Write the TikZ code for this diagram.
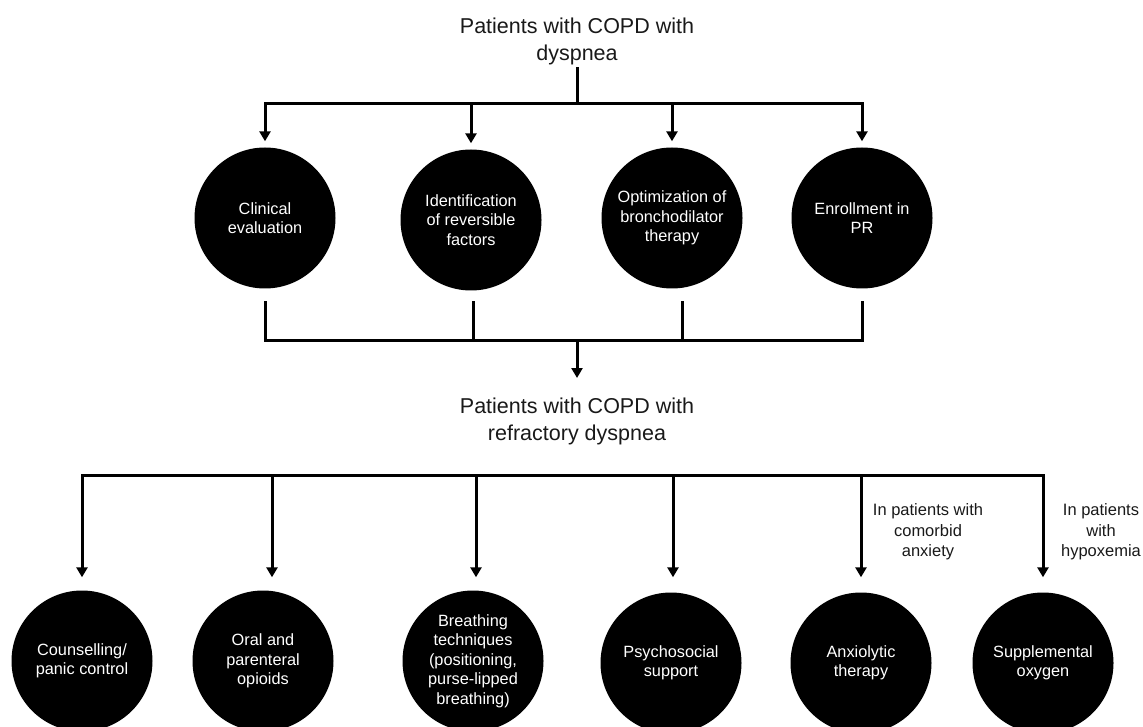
\documentclass[tikz,border=0pt]{standalone}
\usepackage{fontspec}
\setmainfont{Liberation Sans}
\usetikzlibrary{arrows.meta}
\tikzset{
  conn/.style={line width=3pt, line cap=rect},
  arr/.style={line width=3pt, -{Triangle[width=11pt,length=10pt]}},
  circ/.style={circle, fill=black, minimum size=141pt, inner sep=0pt, text=white, align=center, font=\fontsize{16.3}{19.5}\selectfont},
  ttl/.style={align=center, text=black!90, font=\fontsize{21.5}{27}\selectfont},
  lbl/.style={align=center, text=black!90, font=\fontsize{16.5}{20.5}\selectfont}
}
\begin{document}
\begin{tikzpicture}[x=1pt,y=-1pt]
\useasboundingbox (0,0) rectangle (1143,727);
% titles
\node[ttl] (t1) at (577,41) {Patients with COPD with\\dyspnea};
\node[ttl] (t2) at (577,421) {Patients with COPD with\\refractory dyspnea};
% top row circles
\node[circ] (c1) at (265,218) {Clinical\\evaluation};
\node[circ] (c2) at (471,220) {Identification\\of reversible\\factors};
\node[circ] (c3) at (672,218) {Optimization of\\bronchodilator\\therapy};
\node[circ] (c4) at (862,218) {Enrollment in\\PR};
% bottom row circles
\node[circ] (c5) at (82,661) {Counselling/\\panic control};
\node[circ] (c6) at (263,661) {Oral and\\parenteral\\opioids};
\node[circ] (c7) at (473,661) {Breathing\\techniques\\(positioning,\\purse-lipped\\breathing)};
\node[circ] (c8) at (671,663) {Psychosocial\\support};
\node[circ] (c9) at (861,663) {Anxiolytic\\therapy};
\node[circ] (c10) at (1043,663) {Supplemental\\oxygen};
% labels
\node[lbl] (l9) at (928,532) {In patients with\\comorbid\\anxiety};
\node[lbl] (l10) at (1101,532) {In patients\\with\\hypoxemia};
% coordinates
\coordinate (top) at (577,69);
\coordinate (h1C) at (577,104);
\coordinate (h1L) at (265,104);
\coordinate (h1R) at (862,104);
\coordinate (u1) at (265,303);
\coordinate (u2) at (473,303);
\coordinate (u3) at (682,303);
\coordinate (u4) at (862,303);
\coordinate (h2C) at (577,340);
\coordinate (m2) at (577,378);
\coordinate (h3L) at (82,475);
\coordinate (h3R) at (1043,475);
\coordinate (a6) at (272,475);
\coordinate (a7) at (476,475);
\coordinate (a8) at (673,475);
% top connectors
\draw[conn] (top) -- (h1C);
\draw[conn] (h1L) -- (h1R);
\draw[arr, shorten >=6pt] (c1 |- h1C) -- (c1.north);
\draw[arr, shorten >=6pt] (c2 |- h1C) -- (c2.north);
\draw[arr, shorten >=6pt] (c3 |- h1C) -- (c3.north);
\draw[arr, shorten >=6pt] (c4 |- h1C) -- (c4.north);
% merging connectors
\draw[conn] (u1) -- (u1 |- h2C) -- (u4 |- h2C) -- (u4);
\draw[conn] (u2) -- (u2 |- h2C);
\draw[conn] (u3) -- (u3 |- h2C);
\draw[arr] (h2C) -- (m2);
% bottom connectors
\draw[conn] (h3L) -- (h3R);
\draw[arr, shorten >=13pt] (h3L) -- (c5.north);
\draw[arr, shorten >=13pt] (a6) -- (a6 |- c6.north);
\draw[arr, shorten >=13pt] (a7) -- (a7 |- c7.north);
\draw[arr, shorten >=15pt] (a8) -- (a8 |- c8.north);
\draw[arr, shorten >=15pt] (c9 |- h3R) -- (c9.north);
\draw[arr, shorten >=15pt] (h3R) -- (c10.north);
\end{tikzpicture}
\end{document}
